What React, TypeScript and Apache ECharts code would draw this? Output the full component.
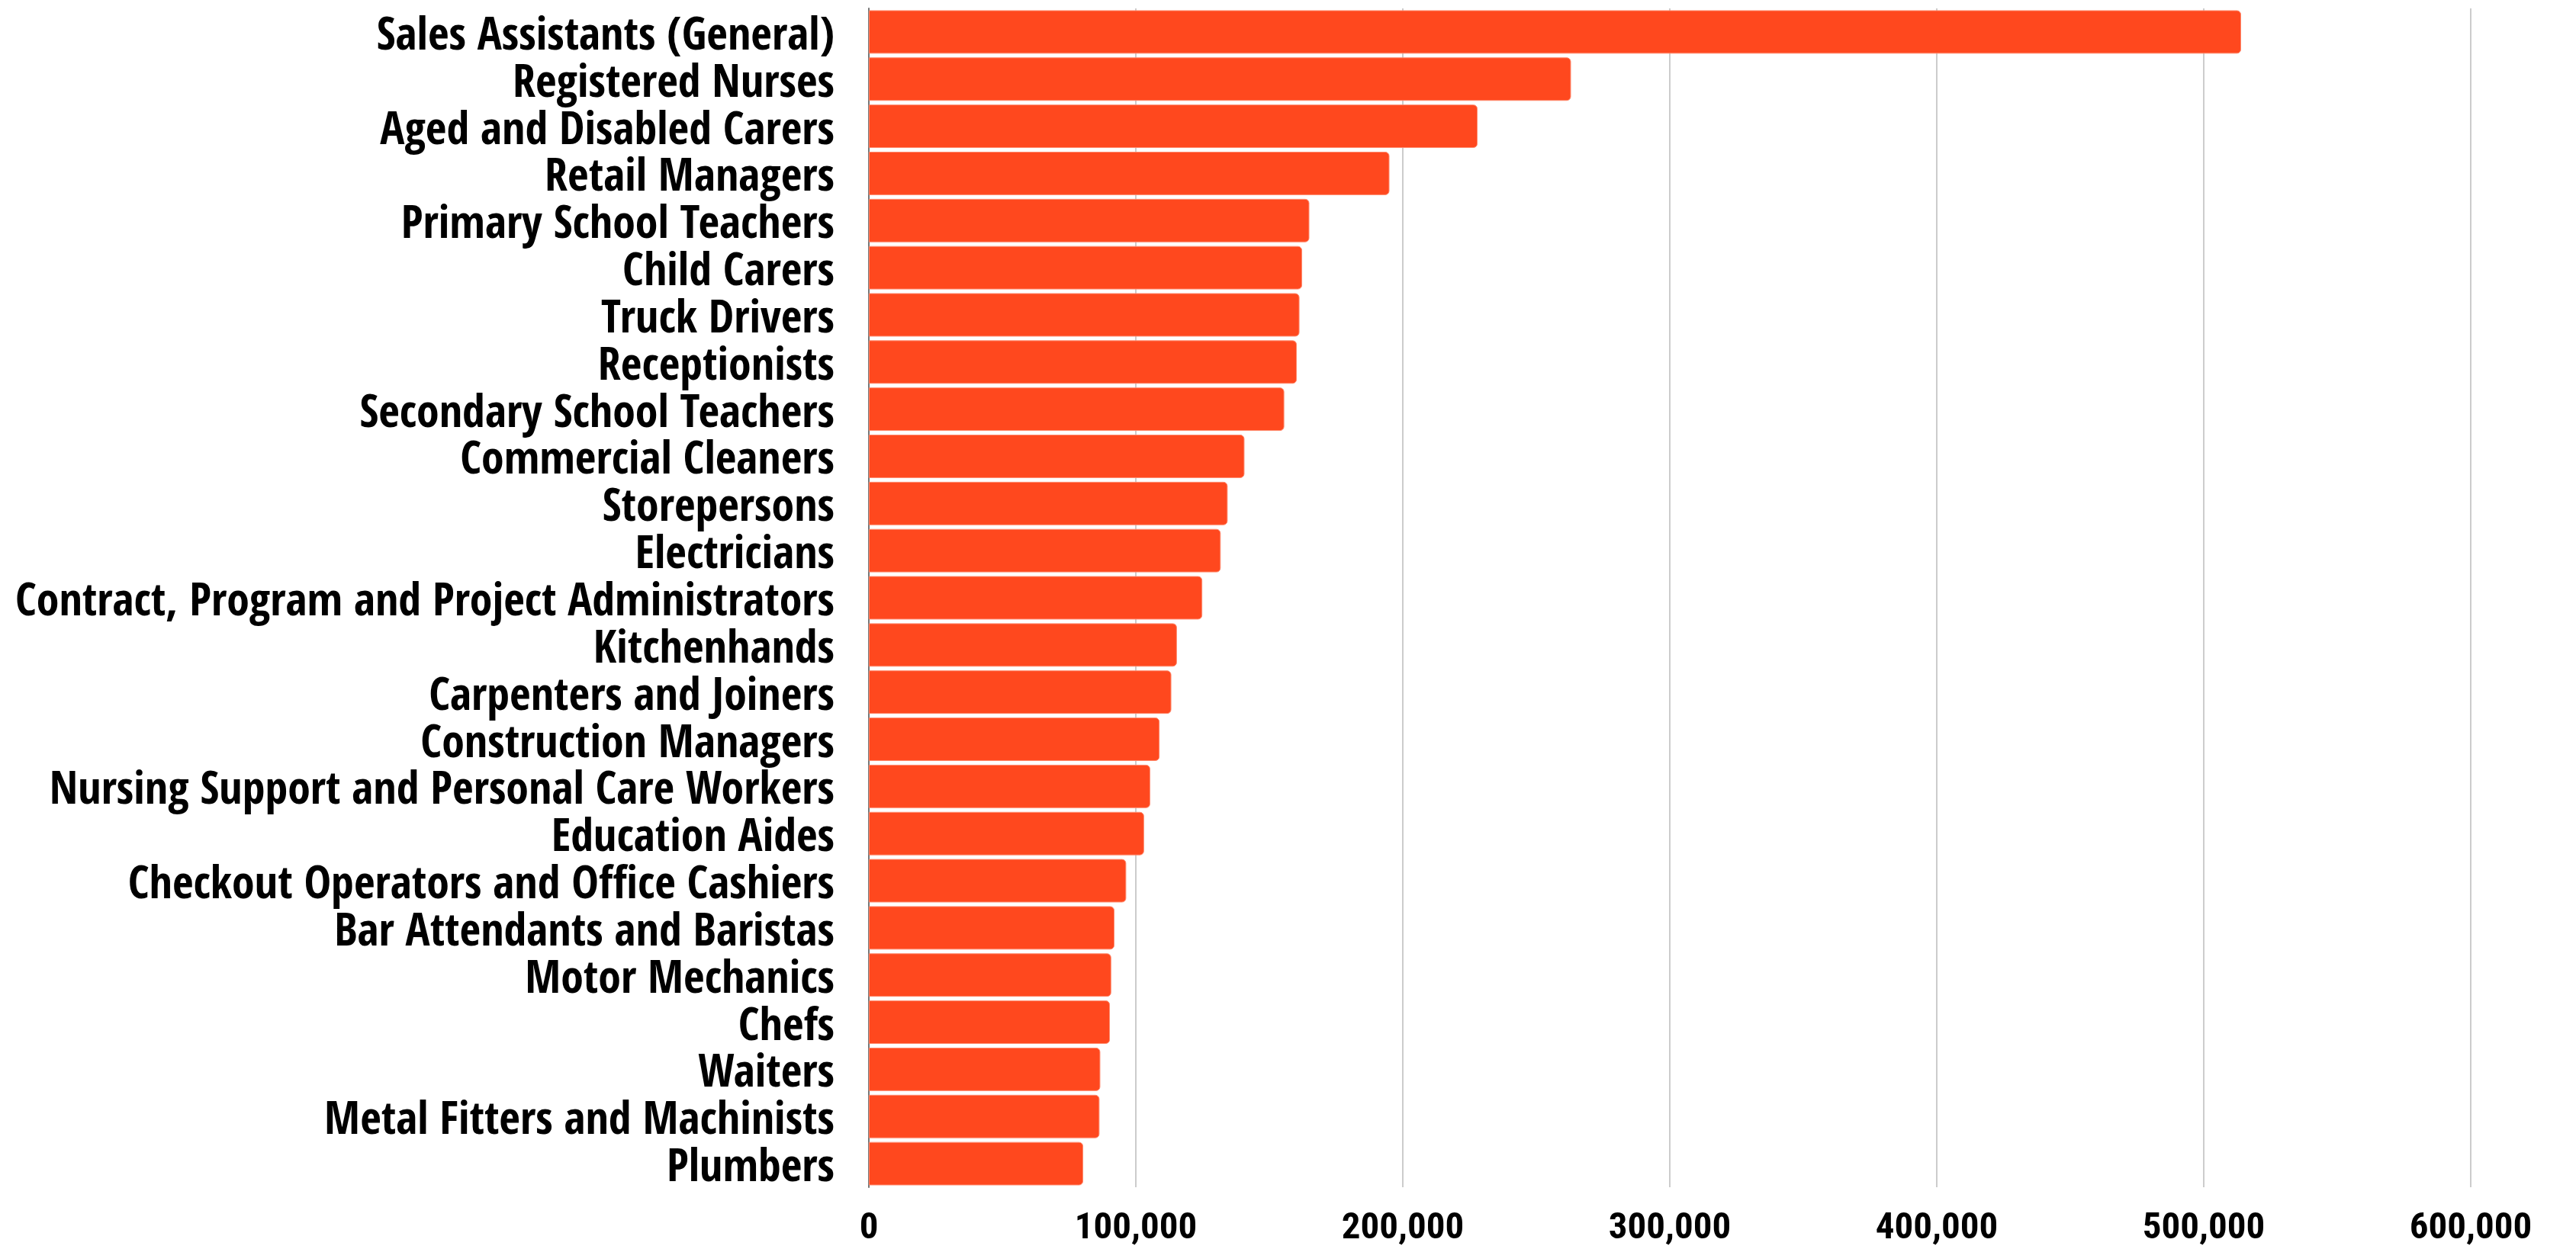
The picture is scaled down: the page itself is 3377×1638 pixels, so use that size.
import React, { useEffect, useRef } from "react";
import * as echarts from "echarts";

const categories = [
  "Sales Assistants (General)",
  "Registered Nurses",
  "Aged and Disabled Carers",
  "Retail Managers",
  "Primary School Teachers",
  "Child Carers",
  "Truck Drivers",
  "Receptionists",
  "Secondary School Teachers",
  "Commercial Cleaners",
  "Storepersons",
  "Electricians",
  "Contract, Program and Project Administrators",
  "Kitchenhands",
  "Carpenters and Joiners",
  "Construction Managers",
  "Nursing Support and Personal Care Workers",
  "Education Aides",
  "Checkout Operators and Office Cashiers",
  "Bar Attendants and Baristas",
  "Motor Mechanics",
  "Chefs",
  "Waiters",
  "Metal Fitters and Machinists",
  "Plumbers",
];

const values = [
  514000, 263000, 228000, 195000, 165000, 162300, 161300, 160300, 155600,
  140700, 134400, 131800, 124900, 115400, 113300, 108900, 105400, 103100,
  96400, 92000, 90800, 90300, 86700, 86400, 80300,
];

const xTicks = { min: 0, max: 600000, interval: 100000 };

const FONT = "'Open Sans Condensed', 'Roboto Condensed', 'DejaVu Sans Condensed', sans-serif";
const FONT_X = "'Roboto Condensed', 'Open Sans Condensed', 'DejaVu Sans Condensed', sans-serif";

export default function App() {
  const ref = useRef<HTMLDivElement>(null);
  useEffect(() => {
    if (!ref.current) return;
    const chart = echarts.init(ref.current, undefined, { renderer: "svg" });
    chart.setOption({
      animation: false,
      backgroundColor: "#ffffff",
      grid: {
        left: 1139,
        right: 138,
        top: 11,
        bottom: 81,
        containLabel: false,
        outerBoundsMode: "none",
      },
      xAxis: {
        type: "value",
        min: xTicks.min,
        max: xTicks.max,
        interval: xTicks.interval,
        axisLine: { show: false },
        axisTick: { show: false },
        splitLine: { show: true, lineStyle: { color: "#cccccc", width: 2 } },
        axisLabel: {
          color: "#000",
          fontFamily: FONT_X,
          fontWeight: "bold",
          fontSize: 49,
          lineHeight: 40,
          margin: 30,
          formatter: (v: number) => v.toLocaleString("en-US"),
        },
      },
      yAxis: {
        type: "category",
        data: categories,
        inverse: true,
        axisLine: { show: true, lineStyle: { color: "#777", width: 2 } },
        axisTick: { show: false },
        splitLine: { show: false },
        axisLabel: {
          color: "#000",
          fontFamily: FONT,
          fontWeight: "bold",
          fontSize: 60,
          lineHeight: 50,
          margin: 45,
          interval: 0,
        },
      },
      series: [
        {
          type: "bar",
          data: values,
          barCategoryGap: "8%",
          itemStyle: {
            color: "#ff481e",
            borderColor: "#ff8a6e",
            borderWidth: 1,
            borderRadius: [0, 5, 5, 0],
          },
        },
      ],
    });
    return () => chart.dispose();
  }, []);
  return (
    <div
      ref={ref}
      style={{ position: "fixed", left: 0, top: 0, width: 3377, height: 1638 }}
    />
  );
}
